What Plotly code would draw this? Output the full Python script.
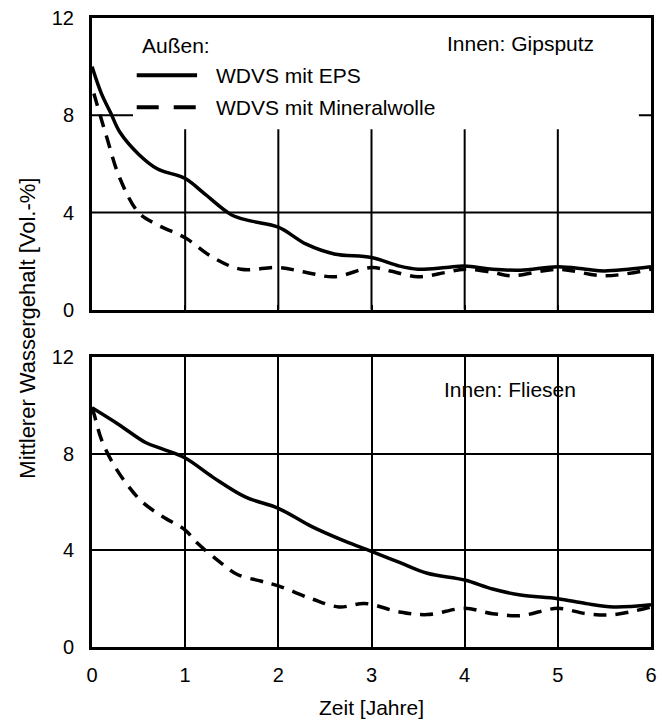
import plotly.graph_objects as go
from plotly.subplots import make_subplots

# Top panel (Innen: Gipsputz)
x_eps_top = [0, 0.1, 0.2, 0.3, 0.5, 0.7, 1.0, 1.2, 1.5, 1.7, 2.0, 2.3, 2.6, 3.0, 3.3, 3.5, 3.8, 4.0, 4.3, 4.6, 5.0, 5.3, 5.5, 6.0]
y_eps_top = [10.0, 8.9, 8.1, 7.3, 6.4, 5.8, 5.4, 4.8, 3.9, 3.66, 3.4, 2.7, 2.3, 2.15, 1.8, 1.67, 1.74, 1.8, 1.67, 1.63, 1.77, 1.67, 1.6, 1.77]
x_mw_top = [0.02, 0.05, 0.15, 0.3, 0.5, 0.7, 1.0, 1.3, 1.6, 2.0, 2.3, 2.6, 3.0, 3.2, 3.5, 3.8, 4.0, 4.3, 4.5, 5.0, 5.5, 6.0]
y_mw_top = [8.9, 8.5, 7.2, 5.4, 4.0, 3.5, 2.96, 2.15, 1.67, 1.74, 1.54, 1.36, 1.74, 1.6, 1.36, 1.54, 1.67, 1.54, 1.4, 1.67, 1.4, 1.67]

# Bottom panel (Innen: Fliesen)
x_eps_bot = [0, 0.29, 0.58, 0.76, 1.0, 1.3, 1.65, 2.0, 2.36, 2.72, 3.0, 3.3, 3.6, 4.0, 4.3, 4.6, 5.0, 5.3, 5.6, 6.0]
y_eps_bot = [9.9, 9.2, 8.45, 8.19, 7.82, 7.02, 6.2, 5.74, 4.98, 4.37, 3.96, 3.5, 3.05, 2.77, 2.4, 2.15, 2.0, 1.8, 1.66, 1.75]
x_mw_bot = [0, 0.025, 0.1, 0.22, 0.37, 0.54, 0.76, 1.0, 1.13, 1.38, 1.56, 1.81, 2.0, 2.36, 2.65, 2.93, 3.3, 3.6, 4.0, 4.3, 4.6, 5.0, 5.3, 5.6, 6.0]
y_mw_bot = [9.9, 9.6, 8.6, 7.63, 6.76, 6.0, 5.39, 4.84, 4.3, 3.49, 3.0, 2.73, 2.53, 1.99, 1.66, 1.8, 1.45, 1.34, 1.6, 1.38, 1.3, 1.6, 1.38, 1.34, 1.66]

x_ticks = [0, 1, 2, 3, 4, 5, 6]
y_ticks = [0, 4, 8, 12]

legend_title = "Außen:"
series_names = ["WDVS mit EPS", "WDVS mit Mineralwolle"]

FONT = "Liberation Sans, Arial, sans-serif"
DASH = "13px,9px"
LW = 3.5

fig = make_subplots(rows=2, cols=1, shared_xaxes=False, vertical_spacing=0.075)

fig.add_trace(go.Scatter(x=x_eps_top, y=y_eps_top, mode="lines", line=dict(color="black", width=LW, shape="spline"),
                         name=series_names[0]), row=1, col=1)
fig.add_trace(go.Scatter(x=x_mw_top, y=y_mw_top, mode="lines", line=dict(color="black", width=LW, dash=DASH, shape="spline"),
                         name=series_names[1]), row=1, col=1)
fig.add_trace(go.Scatter(x=x_eps_bot, y=y_eps_bot, mode="lines", line=dict(color="black", width=LW, shape="spline"),
                         name=series_names[0]), row=2, col=1)
fig.add_trace(go.Scatter(x=x_mw_bot, y=y_mw_bot, mode="lines", line=dict(color="black", width=LW, dash=DASH, shape="spline"),
                         name=series_names[1]), row=2, col=1)

axis_common = dict(showline=True, linecolor="black", linewidth=3, mirror=True, zeroline=False,
                   tickfont=dict(family=FONT, size=20, color="black"))

fig.update_xaxes(range=[0, 6], tickvals=x_ticks, **axis_common)
fig.update_yaxes(range=[0, 12], tickvals=y_ticks, ticklabelstandoff=11, **axis_common)

# top panel: gridlines drawn partially (legend area is clear)
fig.update_xaxes(showgrid=False, showticklabels=False, ticks="inside", ticklen=5, tickwidth=2, tickcolor="black", row=1, col=1)
fig.update_yaxes(showgrid=False, ticks="", row=1, col=1)
for xv in x_ticks[1:-1]:
    fig.add_shape(type="line", x0=xv, x1=xv, y0=0, y1=7.43, xref="x", yref="y",
                  line=dict(color="black", width=2), layer="below")
fig.add_shape(type="line", x0=0, x1=6, y0=4, y1=4, xref="x", yref="y", line=dict(color="black", width=2), layer="below")
fig.add_shape(type="line", x0=0, x1=0.44, y0=8, y1=8, xref="x", yref="y", line=dict(color="black", width=2), layer="below")
fig.add_shape(type="line", x0=5.87, x1=6, y0=8, y1=8, xref="x", yref="y", line=dict(color="black", width=2), layer="below")

# bottom panel: full grid
fig.update_xaxes(showgrid=True, gridcolor="black", gridwidth=2, ticks="", ticklabelstandoff=8, row=2, col=1)
fig.update_yaxes(showgrid=True, gridcolor="black", gridwidth=2, ticks="", row=2, col=1)

fig.update_xaxes(title=dict(text="Zeit [Jahre]", font=dict(family=FONT, size=21, color="black"), standoff=16), row=2, col=1)

fig.add_annotation(text="Innen: Gipsputz", x=4.6, y=10.95, xref="x", yref="y", showarrow=False,
                   xanchor="center", yanchor="middle", font=dict(family=FONT, size=21, color="black"))
fig.add_annotation(text="Innen: Fliesen", x=4.49, y=10.65, xref="x2", yref="y2", showarrow=False,
                   xanchor="center", yanchor="middle", font=dict(family=FONT, size=21, color="black"))
fig.add_annotation(text="Mittlerer Wassergehalt [Vol.-%]", x=-0.117, y=0.507, xref="paper", yref="paper",
                   xanchor="center", yanchor="middle",
                   textangle=-90, showarrow=False, font=dict(family=FONT, size=22, color="black"))

# hand-drawn legend (long line samples as in the original)
fig.add_annotation(text=legend_title, x=0.085, y=0.957, xref="paper", yref="paper", xanchor="left", yanchor="middle",
                   showarrow=False, font=dict(family=FONT, size=21, color="black"))
leg_y = [0.909, 0.858]
leg_dash = ["solid", "22px,15px"]
for name, ly, dsh in zip(series_names, leg_y, leg_dash):
    fig.add_shape(type="line", x0=0.080, x1=0.188, y0=ly, y1=ly, xref="paper", yref="paper",
                  line=dict(color="black", width=4, dash=dsh))
    fig.add_annotation(text=name, x=0.218, y=ly, xref="paper", yref="paper", xanchor="left", yanchor="middle",
                       showarrow=False, font=dict(family=FONT, size=21, color="black"))

fig.update_layout(
    width=662, height=726,
    margin=dict(l=92, r=5, t=18, b=79),
    paper_bgcolor="white", plot_bgcolor="white",
    showlegend=False,
)
fig.update_yaxes(domain=[0.536, 1.0], row=1, col=1)
fig.update_yaxes(domain=[0.0, 0.461], row=2, col=1)

fig.write_html("out.html")
